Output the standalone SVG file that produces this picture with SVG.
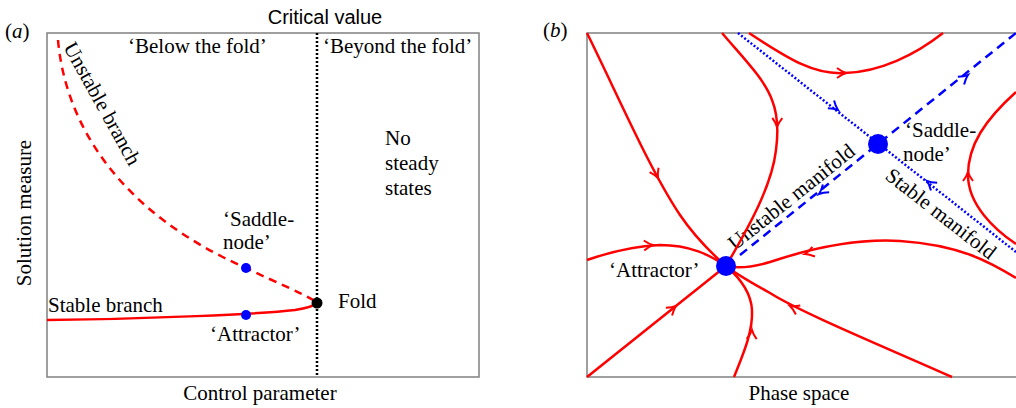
<svg xmlns="http://www.w3.org/2000/svg" xmlns:xlink="http://www.w3.org/1999/xlink" width="1016" height="408" viewBox="0 0 1016 408">
<style>
text{font-family:"Liberation Serif","Times New Roman",serif;font-size:21px;fill:#000}
.sans{font-family:"Liberation Sans",Arial,sans-serif;font-size:20px}
.frame{fill:none;stroke:#808080;stroke-width:1.5}
.red{fill:none;stroke:#ff0000;stroke-width:2.5;stroke-linejoin:round}
.reddash{fill:none;stroke:#ff0000;stroke-width:2.5;stroke-dasharray:8 6}
.bdash{fill:none;stroke:#0000ff;stroke-width:2.5;stroke-dasharray:9 6}
.bdot{fill:none;stroke:#0000ff;stroke-width:2.5;stroke-dasharray:2 2}
.kdot{fill:none;stroke:#000;stroke-width:2.5;stroke-dasharray:2 2}
.ahr{fill:none;stroke:#ff0000;stroke-width:2}
.ahb{fill:none;stroke:#0000ff;stroke-width:2}
</style>
<defs>
<path id="ah" d="M-9,-5 Q-4,-1.2 0,0 Q-4,1.2 -9,5"/>
</defs>

<!-- Panel (a) -->
<g id="panel-a-frame">
<rect class="frame" x="47" y="33" width="432" height="344"/>
<line class="kdot" x1="317" y1="33" x2="317" y2="377"/>
</g>
<g id="panel-a-labels">
<text x="5" y="38">(<tspan font-style="italic">a</tspan>)</text>
<text class="sans" x="325" y="24" text-anchor="middle">Critical value</text>
<text x="128" y="53">‘Below the fold’</text>
<text x="323" y="53">‘Beyond the fold’</text>
<text x="385" y="145">No</text>
<text x="385" y="170">steady</text>
<text x="385" y="195">states</text>
<text x="260" y="400" text-anchor="middle">Control parameter</text>
<text transform="translate(31,213) rotate(-90)" text-anchor="middle">Solution measure</text>
<text transform="translate(63,47) rotate(61)">Unstable branch</text>
<text x="48" y="312">Stable branch</text>
</g>
<g id="connectors-a">
<path id="unstable-branch" class="reddash" d="M58,40 C66,130 125,215 246,268 C275,282 300,292 315,301"/>
<path id="stable-branch" class="red" d="M47,320 C150,319 260,314 295,310 C308,308 314,306 317,303"/>
</g>
<g id="saddle-a">
<circle cx="246" cy="268" r="5" fill="#0000ff"/>
<text x="223" y="226">‘Saddle-</text>
<text x="223" y="249">node’</text>
</g>
<g id="attractor-a">
<circle cx="246" cy="315" r="5" fill="#0000ff"/>
<text x="210" y="341">‘Attractor’</text>
</g>
<g id="fold">
<circle cx="317" cy="303" r="5.5" fill="#000"/>
<text x="338" y="308">Fold</text>
</g>

<!-- Panel (b) -->
<g id="panel-b-frame">
<path class="frame" d="M1016,33 H587 V377 H1016"/>
</g>
<g id="panel-b-labels">
<text x="543" y="37">(<tspan font-style="italic">b</tspan>)</text>
<text x="799" y="400" text-anchor="middle">Phase space</text>
<text transform="translate(735,251) rotate(-38.7)">Unstable manifold</text>
<text transform="translate(884,178) rotate(38)">Stable manifold</text>
</g>
<g id="connectors-b">
<path class="bdot" d="M738,33 L1016,252"/>
<path class="bdash" d="M740,255 L1016,33"/>
<path class="red" d="M587,33 C620,100 650,170 680,215 C695,237 710,252 726,266"/>
<path class="red" d="M722,33 C745,60 765,80 772,100 C778,115 778,135 776,150 C772,185 750,225 726,266"/>
<path class="red" d="M749,33 C790,60 815,75 845,73 C880,72 915,55 943,33"/>
<path class="red" d="M1016,92 C985,120 968,145 968,175 C968,205 995,230 1016,244"/>
<path class="red" d="M1016,278 C990,262 960,245 900,241 C850,238 800,252 770,262 C750,268 735,268 726,266"/>
<path class="red" d="M952,377 C880,345 800,312 770,293 C750,282 735,273 726,266"/>
<path class="red" d="M734,377 C745,350 753,330 752,310 C751,292 740,278 726,266"/>
<path class="red" d="M587,377 L726,266"/>
<path class="red" d="M587,260 C610,252 635,246 660,245 C690,245 710,255 726,266"/>
<g class="ahr">
<use xlink:href="#ah" transform="translate(658,178) rotate(64)"/>
<use xlink:href="#ah" transform="translate(777,127) rotate(92)"/>
<use xlink:href="#ah" transform="translate(846,73) rotate(0)"/>
<use xlink:href="#ah" transform="translate(968,172) rotate(-90)"/>
<use xlink:href="#ah" transform="translate(805,254) rotate(165)"/>
<use xlink:href="#ah" transform="translate(790,306) rotate(-154)"/>
<use xlink:href="#ah" transform="translate(752,330) rotate(-88)"/>
<use xlink:href="#ah" transform="translate(676,306) rotate(-38.6)"/>
<use xlink:href="#ah" transform="translate(653,245) rotate(-3)"/>
</g>
<g class="ahb">
<use xlink:href="#ah" transform="translate(838,110) rotate(38.4)"/>
<use xlink:href="#ah" transform="translate(927,181) rotate(218.4)"/>
<use xlink:href="#ah" transform="translate(968,75) rotate(-38.7)"/>
<use xlink:href="#ah" transform="translate(819,194) rotate(141.3)"/>
</g>
</g>
<g id="saddle-b">
<circle cx="878" cy="144" r="10" fill="#0000ff"/>
<text x="905" y="137">‘Saddle-</text>
<text x="903" y="161">node’</text>
</g>
<g id="attractor-b">
<circle cx="726" cy="266" r="10" fill="#0000ff"/>
<text x="609" y="277">‘Attractor’</text>
</g>
</svg>
